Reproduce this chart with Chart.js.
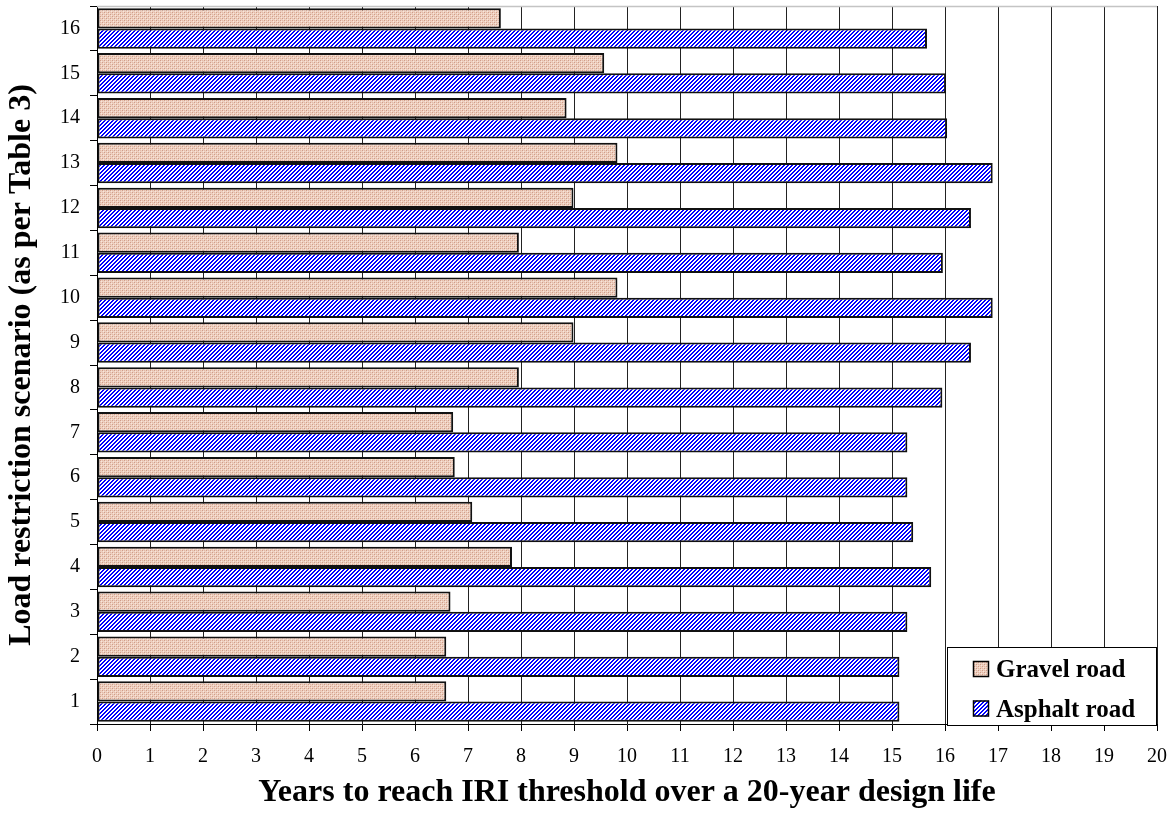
<!DOCTYPE html>
<html>
<head>
<meta charset="utf-8">
<script src="https://cdn.jsdelivr.net/npm/chart.js@4/dist/chart.umd.min.js"></script>
<style>
  html, body { margin: 0; padding: 0; background: #ffffff; }
  #wrap { width: 1176px; height: 814px; }
</style>
</head>
<body>
<div id="wrap"><canvas id="chart" width="1176" height="814"></canvas></div>
<script>
// Load restriction scenarios (as per Table 3)
const scenarios = ['1','2','3','4','5','6','7','8','9','10','11','12','13','14','15','16'];

// Years to reach the IRI threshold, one value per scenario
const gravelYears  = [6.59, 6.59, 6.67, 7.83, 7.08, 6.75, 6.72, 7.96, 8.99, 9.82, 7.96, 8.99, 9.82, 8.86, 9.57, 7.62];
const asphaltYears = [15.14, 15.14, 15.29, 15.74, 15.40, 15.29, 15.29, 15.95, 16.49, 16.90, 15.96, 16.49, 16.90, 16.04, 16.02, 15.66];

const seriesNames = ['Gravel road', 'Asphalt road'];
const xTitle = 'Years to reach IRI threshold over a 20-year design life';
const yTitle = 'Load restriction scenario (as per Table 3)';

const SERIF = '"Liberation Serif", "Times New Roman", serif';

// Small pixel tiles used as bar fills
function makePattern(size, painter) {
  const c = document.createElement('canvas');
  c.width = size; c.height = size;
  const g = c.getContext('2d');
  painter(g, size);
  return g.createPattern(c, 'repeat');
}

// fine pinkish dotted texture
const gravelFill = makePattern(4, (g, n) => {
  g.fillStyle = '#eed0c0';
  g.fillRect(0, 0, n, n);
  g.fillStyle = '#d09c88';
  g.fillRect(0, 0, 1, 1);
  g.fillRect(2, 2, 1, 1);
  g.fillStyle = '#e2b9a6';
  g.fillRect(2, 0, 1, 1);
  g.fillRect(0, 2, 1, 1);
  g.fillStyle = '#f8e6dc';
  g.fillRect(1, 1, 1, 1);
  g.fillRect(3, 3, 1, 1);
});

// blue upward diagonal stripes on white
const asphaltFill = makePattern(4, (g, n) => {
  g.fillStyle = '#ffffff';
  g.fillRect(0, 0, n, n);
  g.fillStyle = '#0000ff';
  for (let y = 0; y < n; y++) {
    for (let x = 0; x < n; x++) {
      const k = (x + y) % n;
      if (k === 0 || k === 1) g.fillRect(x, y, 1, 1);
    }
  }
});

// thin light frame line along the top of the plot area
const topEdge = {
  id: 'topEdge',
  beforeDatasetsDraw(chart) {
    const { ctx, chartArea: a } = chart;
    ctx.save();
    ctx.strokeStyle = '#c4c4c4';
    ctx.lineWidth = 1.5;
    ctx.beginPath();
    ctx.moveTo(a.left, a.top + 0.5);
    ctx.lineTo(a.right, a.top + 0.5);
    ctx.stroke();
    ctx.restore();
  }
};

// boxed legend sitting in the lower right corner of the plot
const boxLegend = {
  id: 'boxLegend',
  afterDraw(chart) {
    const { ctx, chartArea: a } = chart;
    const w = 210, h = 79;
    const x0 = a.right - w, y0 = a.bottom + 2 - h;
    ctx.save();
    ctx.fillStyle = '#ffffff';
    ctx.fillRect(x0, y0, w, h);
    ctx.strokeStyle = '#000000';
    ctx.lineWidth = 1;
    ctx.strokeRect(x0 + 0.5, y0 + 0.5, w - 1, h - 1);
    ctx.font = 'bold 25px ' + SERIF;
    ctx.textBaseline = 'alphabetic';
    ctx.textAlign = 'left';
    chart.data.datasets.forEach((ds, i) => {
      const base = y0 + 30 + i * 39.5;
      const sx = x0 + 26, sy = base - 16;
      ctx.fillStyle = ds.backgroundColor;
      ctx.fillRect(sx, sy, 16, 16);
      ctx.strokeStyle = '#000000';
      ctx.lineWidth = 1.5;
      ctx.strokeRect(sx + 0.5, sy + 0.5, 15, 15);
      ctx.fillStyle = '#000000';
      ctx.fillText(ds.label, x0 + 49, base);
    });
    ctx.restore();
  }
};

new Chart(document.getElementById('chart'), {
  type: 'bar',
  data: {
    labels: scenarios,
    datasets: [
      {
        label: seriesNames[0],
        data: gravelYears,
        backgroundColor: gravelFill,
        borderColor: '#111111',
        borderWidth: 2,
        borderSkipped: false
      },
      {
        label: seriesNames[1],
        data: asphaltYears,
        backgroundColor: asphaltFill,
        borderColor: '#111111',
        borderWidth: 2,
        borderSkipped: false
      }
    ]
  },
  options: {
    indexAxis: 'y',
    responsive: false,
    animation: false,
    devicePixelRatio: 1,
    categoryPercentage: 0.9,
    barPercentage: 1.0,
    layout: { padding: { top: 6, right: 19, left: 0, bottom: 0 } },
    plugins: {
      legend: { display: false },
      tooltip: { enabled: false }
    },
    scales: {
      x: {
        type: 'linear',
        min: 0,
        max: 20,
        afterFit(scale) {
          scale.height = 90;
          scale.paddingLeft = 0;
          scale.paddingRight = 0;
        },
        ticks: {
          stepSize: 1,
          color: '#000000',
          padding: 14,
          font: { family: SERIF, size: 20 }
        },
        grid: {
          color: '#222222',
          lineWidth: 1,
          drawTicks: true,
          tickLength: 7,
          tickColor: '#000000'
        },
        border: { color: '#000000', width: 1 },
        title: {
          display: true,
          text: xTitle,
          color: '#000000',
          padding: { top: 0, bottom: 2 },
          font: { family: SERIF, size: 32, weight: 'bold' }
        }
      },
      y: {
        type: 'category',
        reverse: true,
        afterFit(scale) {
          scale.width = 97;
          scale.paddingTop = 0;
          scale.paddingBottom = 0;
        },
        ticks: {
          color: '#000000',
          padding: 10,
          font: { family: SERIF, size: 20 }
        },
        grid: {
          drawOnChartArea: false,
          drawTicks: true,
          tickLength: 7,
          color: '#000000'
        },
        border: { color: '#000000', width: 1 },
        title: {
          display: true,
          text: yTitle,
          color: '#000000',
          padding: { top: 3, bottom: 0 },
          font: { family: SERIF, size: 32, weight: 'bold' }
        }
      }
    }
  },
  plugins: [topEdge, boxLegend]
});
</script>
</body>
</html>
